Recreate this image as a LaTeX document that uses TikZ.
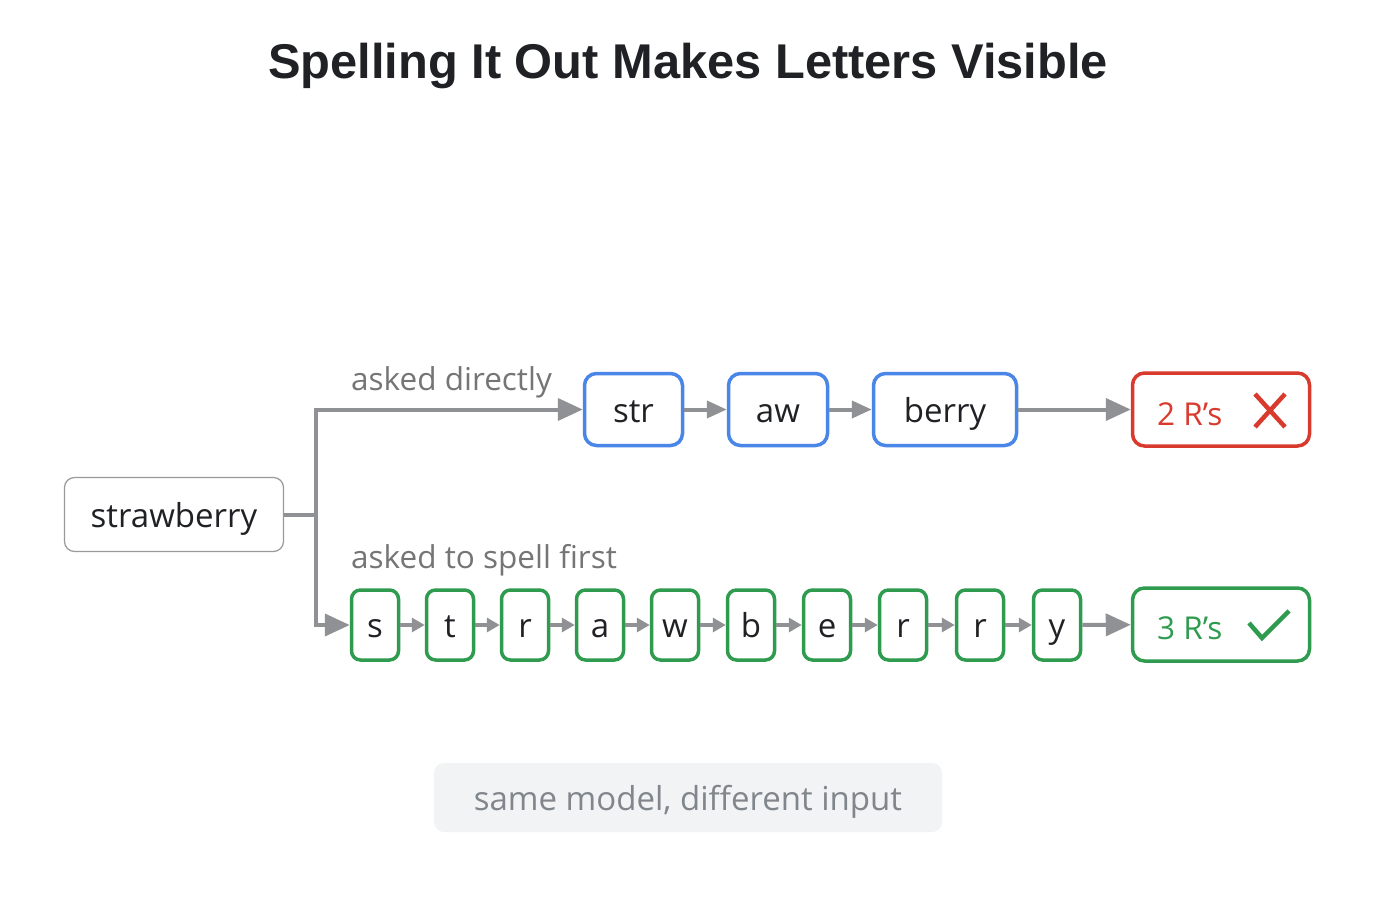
\documentclass[tikz,border=0pt]{standalone}
\usepackage{fontspec}
\setmainfont{Open Sans}
\newfontfamily\titlefont{Liberation Sans}
\usetikzlibrary{arrows.meta,positioning}
\definecolor{gblue}{HTML}{4A86E8}
\definecolor{gred}{HTML}{D93A2E}
\definecolor{ggreen}{HTML}{2E9B4E}
\definecolor{conngray}{HTML}{8F9195}
\definecolor{labgray}{HTML}{757575}
\definecolor{pillfill}{HTML}{F1F3F4}
\definecolor{pilltext}{HTML}{80868B}
\definecolor{inkdark}{HTML}{202124}
\tikzset{
  txt/.style={text height=25pt,text depth=0pt,font=\fontsize{33}{38}\selectfont},
  tok/.style={txt,draw=gblue,line width=3.5pt,rounded corners=12pt,minimum height=72pt,inner sep=0pt,text=inkdark},
  let/.style={txt,draw=ggreen,line width=3.5pt,rounded corners=9pt,minimum width=47pt,minimum height=70pt,inner sep=0pt,text=inkdark},
  res/.style={line width=3.5pt,rounded corners=12pt,minimum width=177pt,minimum height=73pt,inner sep=0pt},
  restxt/.style={anchor=base west,inner sep=0pt,font=\fontsize{31.5}{36}\selectfont},
  conn/.style={draw=conngray,line width=4pt},
  bigarr/.style={conn,-{Triangle[length=25pt,width=22pt]}},
  midarr/.style={conn,-{Triangle[length=20pt,width=17pt]}},
  smallarr/.style={conn,-{Triangle[length=13pt,width=14pt]}},
  lab/.style={text=labgray,font=\fontsize{31.5}{36}\selectfont,anchor=base west,inner sep=0pt}
}
\begin{document}
\begin{tikzpicture}[x=1pt,y=-1pt]
\useasboundingbox[fill=white] (0,0) rectangle (1376,899);
\node[font=\titlefont\bfseries\fontsize{48.8}{56}\selectfont,text=inkdark,anchor=base] (title) at (688,78) {Spelling It Out Makes Letters Visible};
% input
\node[txt,draw=black!40,line width=1.2pt,rounded corners=10pt,minimum width=219pt,minimum height=74pt,inner sep=0pt,text=inkdark] (sw) at (174,514.5) {strawberry};
\coordinate (j) at (316,514.5);
% top row
\node[tok,minimum width=98pt] (str) at (633.5,409.5) {str};
\node[tok,minimum width=99pt] (aw) at (778,409.5) {aw};
\node[tok,minimum width=143pt] (berry) at (945,409.5) {berry};
\node[res,draw=gred] (two) at (1221,409.5) {};
\node[restxt,text=gred] (twot) at (1157,425) {2 R’s};
\coordinate (xa) at (1255,394);
\coordinate (xb) at (1285,427);
\coordinate (xc) at (1285,394);
\coordinate (xd) at (1255,427);
\draw[gred,line width=4.5pt] (xa) -- (xb) (xc) -- (xd);
% labels
\node[lab] (l1) at (351,390) {asked directly};
\node[lab] (l2) at (351,568) {asked to spell first};
% bottom row
\node[let] (s1) at (375,625) {s};
\node[let] (s2) at (450,625) {t};
\node[let] (s3) at (525,625) {r};
\node[let] (s4) at (600,625) {a};
\node[let] (s5) at (675,625) {w};
\node[let] (s6) at (751,625) {b};
\node[let] (s7) at (827,625) {e};
\node[let] (s8) at (903,625) {r};
\node[let] (s9) at (980,625) {r};
\node[let] (s10) at (1057,625) {y};
\node[res,draw=ggreen] (three) at (1221,624.5) {};
\node[restxt,text=ggreen] (threet) at (1157,639) {3 R’s};
\coordinate (ca) at (1249,623);
\coordinate (cb) at (1262,638);
\coordinate (cc) at (1289,611);
\draw[ggreen,line width=4.5pt] (ca) -- (cb) -- (cc);
% connectors
\draw[conn] (sw.east) -- (j);
\draw[bigarr] (j) |- (str.west);
\draw[bigarr] (j) |- (s1.west);
\draw[midarr] (str) -- (aw);
\draw[midarr] (aw) -- (berry);
\draw[bigarr] (berry) -- (two);
\foreach \a/\b in {s1/s2,s2/s3,s3/s4,s4/s5,s5/s6,s6/s7,s7/s8,s8/s9,s9/s10}
  \draw[smallarr] (\a) -- (\b);
\draw[bigarr] (s10) -- (three);
% footer pill
\node[txt,fill=pillfill,rounded corners=10pt,minimum width=508pt,minimum height=69pt,inner sep=0pt,text=pilltext] (pill) at (688,797.5) {same model, different input};
\end{tikzpicture}
\end{document}
